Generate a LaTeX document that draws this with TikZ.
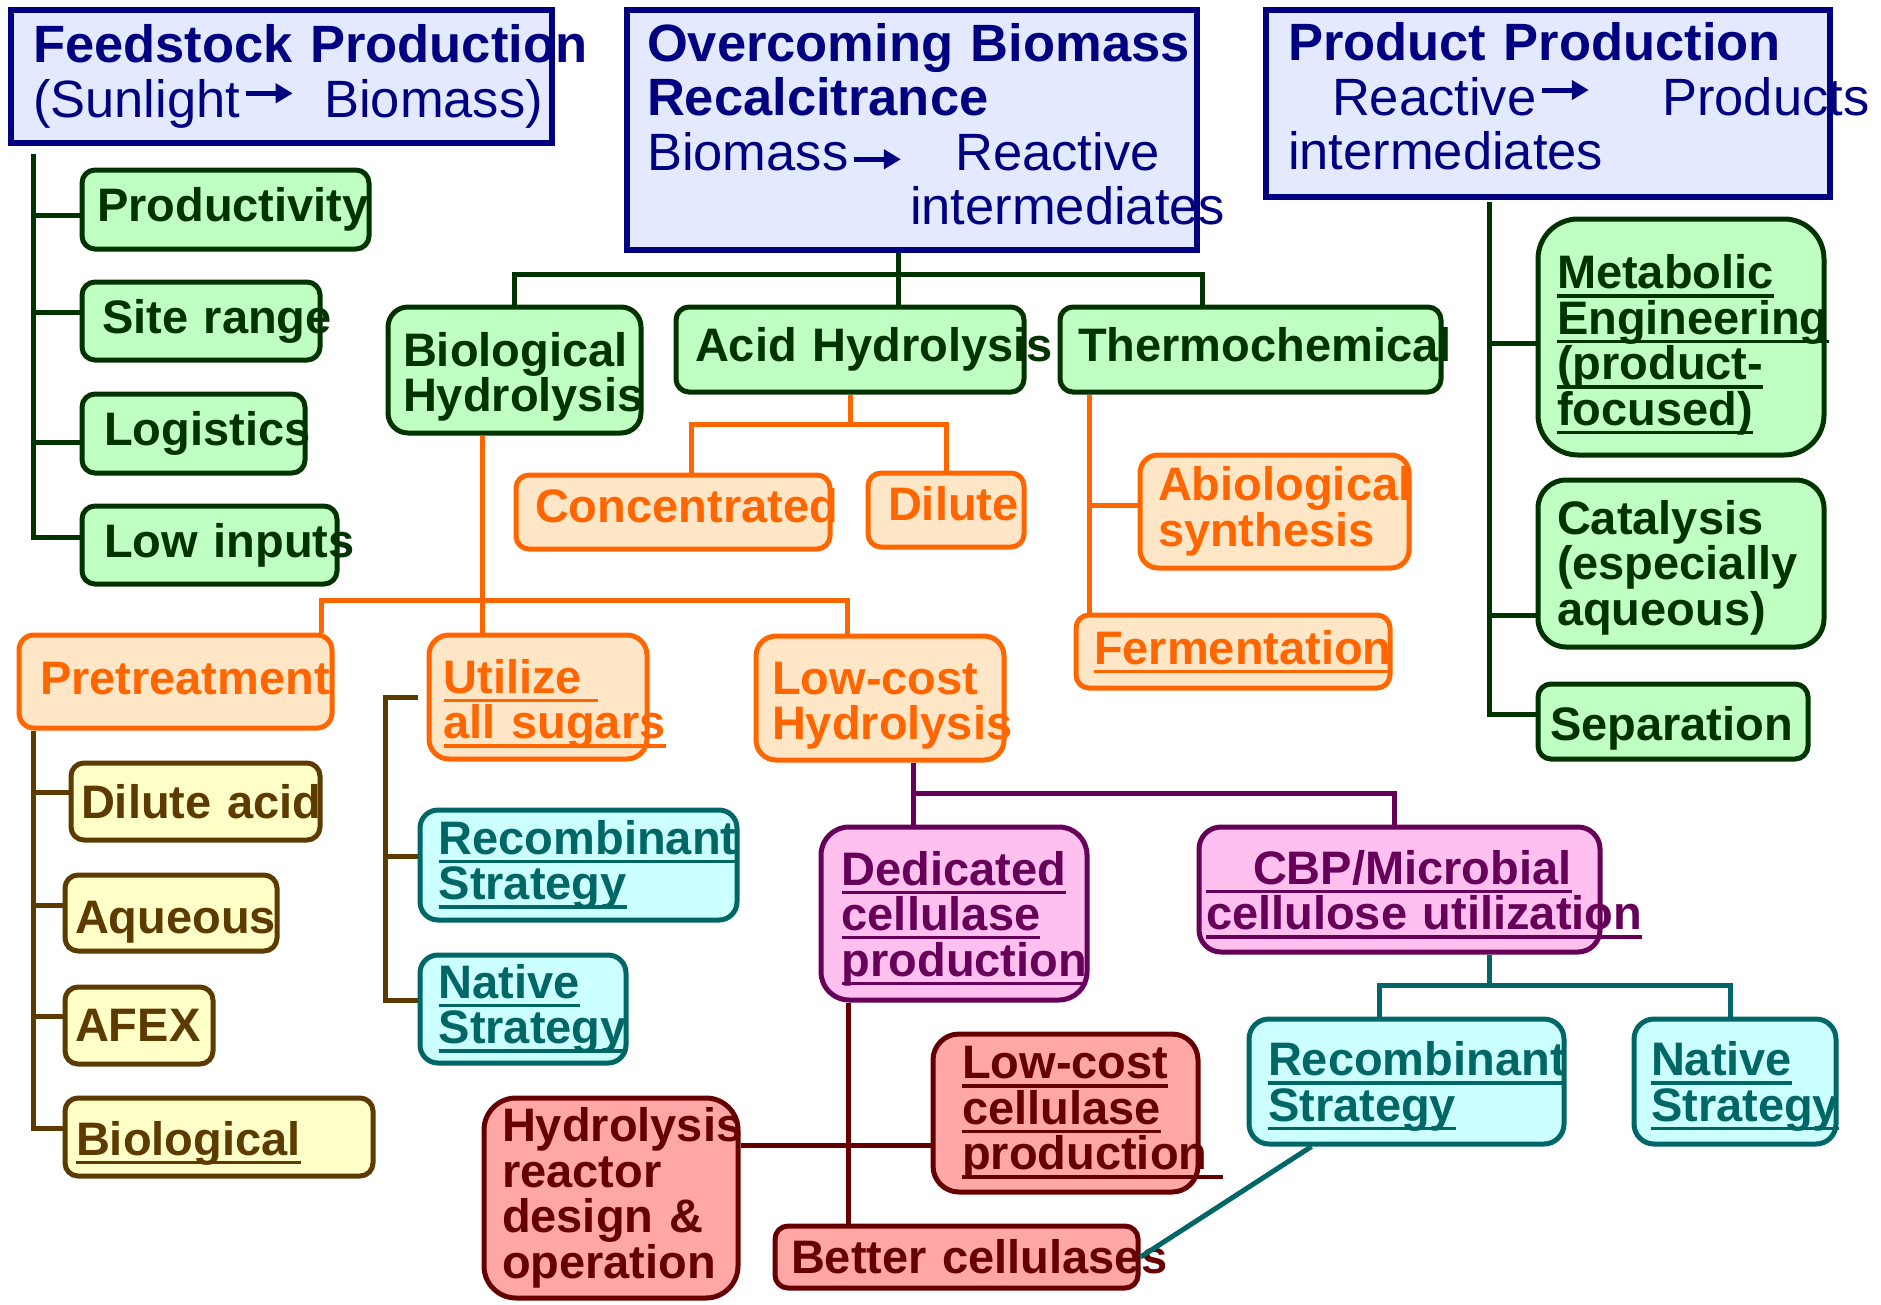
\documentclass[tikz,border=0pt]{standalone}
\usepackage{fontspec}
\setmainfont{Liberation Sans}
\usetikzlibrary{arrows.meta}

\definecolor{navyc}{HTML}{000080}
\definecolor{headfill}{HTML}{E3EAFF}
\definecolor{grnline}{HTML}{003300}
\definecolor{grnfill}{HTML}{BFFFC2}
\definecolor{orgline}{HTML}{FF6600}
\definecolor{orgfill}{HTML}{FFE6C6}
\definecolor{brnline}{HTML}{5C3A00}
\definecolor{brnfill}{HTML}{FFFFC8}
\definecolor{tealline}{HTML}{006666}
\definecolor{tealfill}{HTML}{CCFFFF}
\definecolor{purline}{HTML}{660058}
\definecolor{purfill}{HTML}{FFC0F0}
\definecolor{redline}{HTML}{660000}
\definecolor{redfill}{HTML}{FFA6A6}

\hyphenpenalty=10000
\exhyphenpenalty=10000

\newcommand\boxfont{\fontsize{47}{45.5}\selectfont\bfseries}
\newcommand\headfont{\fontsize{52.5}{54.5}\selectfont}
\newcommand\uln[1]{\leavevmode\setbox0\hbox{#1}\rlap{\rule[-8.8pt]{\wd0}{3.3pt}}\box0}
\newcommand\harr[2]{\hspace{3pt}\tikz[baseline=0pt]\draw[navyc,line width=5pt,-{Triangle[length=17pt,width=19pt]}] (0pt,#1pt) -- (47pt,#1pt);\hspace{#2pt}}

\tikzset{
	sz/.code n args={3}{\pgfmathsetmacro\boxtw{#1-2*#3}\pgfkeysalso{minimum width=#1pt, minimum height=#2pt, inner xsep=#3pt, text width=\boxtw pt}},
	box/.style={rounded corners=13pt, line width=5pt, align=left, inner ysep=0pt, font=\boxfont},
	headbox/.style={draw=navyc, fill=headfill, text=navyc, line width=5.5pt, align=left, inner ysep=0pt, font=\headfont},
	grnbox/.style={box, draw=grnline, fill=grnfill, text=grnline},
	orgbox/.style={box, draw=orgline, fill=orgfill, text=orgline},
	brnbox/.style={box, draw=brnline, fill=brnfill, text=brnline},
	tealbox/.style={box, draw=tealline, fill=tealfill, text=tealline},
	purbox/.style={box, draw=purline, fill=purfill, text=purline},
	redbox/.style={box, draw=redline, fill=redfill, text=redline},
	link/.style={line width=5pt}
}

\begin{document}
\begin{tikzpicture}[x=1pt, y=-1pt]
	\useasboundingbox (0,0) rectangle (1881,1304);

	\node[headbox, sz={541}{133}{22}] (feed) at (281.5,76.5) {\mbox{\textbf{Feedstock Production}}\\\mbox{(Sunlight\harr{24}{29}Biomass)}};
	\node[headbox, sz={570}{240}{20}] (over) at (912,130) {\mbox{\textbf{Overcoming Biomass}}\\\textbf{Recalcitrance}\\\mbox{Biomass\harr{11}{52}Reactive}\\\mbox{\hspace*{263pt}intermediates}\rule[-12pt]{0pt}{0pt}};
	\node[headbox, sz={564}{187}{22}] (prodn) at (1548,103.5) {\mbox{\textbf{Product Production}}\\\mbox{\hspace*{44pt}Reactive\harr{25}{71}Products}\\intermediates\rule[-15pt]{0pt}{0pt}};

	\node[grnbox, sz={287}{79}{15}] (prod) at (225.5,209.5) {Productivity};
	\node[grnbox, sz={238}{78}{20}] (site) at (201,321) {Site~range};
	\node[grnbox, sz={223}{79}{22}] (logi) at (193.5,433.5) {Logistics};
	\node[grnbox, sz={255}{78}{22}] (lowin) at (209.5,545) {Low~inputs};
	\node[grnbox, sz={253}{126}{15}, rounded corners=20pt] (bio) at (514.5,370) {Biological\rule{0pt}{48pt}\\Hydrolysis};
	\node[grnbox, sz={348}{85}{19}] (acid) at (850,349.5) {Acid~Hydrolysis};
	\node[grnbox, sz={381}{85}{18}] (thermo) at (1250.5,349.5) {Thermochemical\rule[-10pt]{0pt}{0pt}};
	\node[grnbox, sz={286}{236}{19}, rounded corners=40pt] (meta) at (1681,337) {\uln{Metabolic}\rule{0pt}{50pt}\\\uln{Engineering}\\\uln{(product-}\\\uln{focused)}};
	\node[grnbox, sz={286}{167}{19}, rounded corners=28pt] (cata) at (1681,563.5) {Catalysis\rule{0pt}{42pt}\\(especially\\aqueous)};
	\node[grnbox, sz={270}{75}{12}] (sep) at (1673,721.5) {Separation\rule{0pt}{48pt}};

	\node[orgbox, sz={314}{74}{19}] (conc) at (673,512) {Concentrated\rule[-14pt]{0pt}{0pt}};
	\node[orgbox, sz={156}{74}{20}] (dil) at (946,510) {Dilute\rule[-14pt]{0pt}{0pt}};
	\node[orgbox, sz={269}{113}{18}, rounded corners=18pt] (abio) at (1274.5,511.5) {Abiological\\synthesis};
	\node[orgbox, sz={314}{73}{18}] (ferm) at (1233,651.5) {\uln{Fermentation}};
	\node[orgbox, sz={313}{93}{21}, rounded corners=15pt] (pret) at (175.5,681.5) {Pretreatment\rule[-6pt]{0pt}{0pt}};
	\node[orgbox, sz={218}{124}{14.5}, rounded corners=20pt] (util) at (538,697) {\uln{Utilize~}\rule{0pt}{48pt}\\\uln{all~sugars}};
	\node[orgbox, sz={248}{124}{16}, rounded corners=20pt] (lch) at (880,698) {Low-cost\rule{0pt}{48pt}\\Hydrolysis};

	\node[brnbox, sz={249}{77}{10}] (dacid) at (195.5,801.5) {Dilute~acid};
	\node[brnbox, sz={212}{76}{10}] (aq) at (171,913) {Aqueous\rule{0pt}{50pt}};
	\node[brnbox, sz={148}{77}{10}] (afex) at (139,1025.5) {AFEX};
	\node[brnbox, sz={308}{78}{11}] (biol) at (219,1137) {\uln{Biological}\rule{0pt}{46pt}};

	\node[tealbox, sz={317}{110}{18.7}, rounded corners=18pt] (rec1) at (578.5,865) {\uln{Recombinant}\\\uln{Strategy}};
	\node[tealbox, sz={206}{108}{18.7}, rounded corners=18pt] (nat1) at (523,1009) {\uln{Native}\\\uln{Strategy}};
	\node[tealbox, sz={315}{125}{19}, rounded corners=20pt] (rec2) at (1406.5,1081.5) {\uln{Recombinant}\rule{0pt}{44pt}\\\uln{Strategy}};
	\node[tealbox, sz={202}{125}{17}, rounded corners=20pt] (nat2) at (1735,1081.5) {\uln{Native}\rule{0pt}{44pt}\\\uln{Strategy}};

	\node[purbox, sz={266}{173}{20.7}, rounded corners=28pt] (ded) at (954,913.5) {\uln{Dedicated}\rule{0pt}{44pt}\\\uln{cellulase}\\\uln{production}};
	\node[purbox, sz={401}{125}{7}, rounded corners=22pt] (cbp) at (1399.5,889.5) {\uln{~~~CBP/Microbial}\rule{0pt}{44pt}\\\uln{cellulose~utilization}};

	\node[redbox, sz={254}{200}{18}, rounded corners=32pt] (hyd) at (611,1198) {Hydrolysis\\reactor\\design~\&\\operation};
	\node[redbox, sz={265}{158}{29}, rounded corners=26pt] (lcc) at (1065.5,1113) {\uln{Low-cost}\\\uln{cellulase}\\\uln{production~}};
	\node[redbox, sz={363}{62}{16}] (better) at (956.5,1257) {Better~cellulases};

	\coordinate (ftop) at ([shift={(25.5pt,-8pt)}]feed.south west);
	\foreach \n/\s in {prod/-6,site/9,logi/-9,lowin/8}
		\draw[link,grnline] (ftop) |- ([yshift=\s pt]\n.west);
	\coordinate (ptop) at ([shift={(-59pt,-2pt)}]prodn.south);
	\foreach \n/\s in {meta/-6,cata/-52,sep/7}
		\draw[link,grnline] (ptop) |- ([yshift=\s pt]\n.west);
	\draw[link,grnline] ([xshift=-14pt]over.south) -- ([xshift=-14pt]over.south |- acid.north);
	\draw[link,grnline] (bio.north) -- ++(0,-30) -| ([xshift=-48pt]thermo.north);

	\draw[link,orgline] ([xshift=-32pt]bio.south) -- ([xshift=-32pt]bio.south |- util.north);
	\draw[link,orgline] ([xshift=146pt]pret.north) -- ++(0,-32) -| ([xshift=-33pt]lch.north);
	\draw[link,orgline] (acid.south) -- ++(0,30) coordinate (abus);
	\draw[link,orgline] ([xshift=18pt]conc.north) |- (abus) -| (dil.north);
	\draw[link,orgline] ([xshift=32pt]thermo.south west) -- ([xshift=32pt]thermo.south west |- ferm.north);
	\draw[link,orgline] ([xshift=32pt]thermo.south west) |- ([yshift=6pt]abio.west);

	\coordinate (ptr) at ([xshift=17pt]pret.south west);
	\foreach \n/\s in {dacid/9,aq/8,afex/9,biol/9}
		\draw[link,brnline] (ptr) |- ([yshift=\s pt]\n.west);
	\coordinate (ustub) at ([xshift=-9pt]util.west);
	\foreach \n in {rec1,nat1}
		\draw[link,brnline] (ustub) -- ++(-32,0) |- ([yshift=9pt]\n.west);

	\draw[link,purline] ([xshift=33pt]lch.south) -- ([xshift=33pt]lch.south |- ded.north);
	\draw[link,purline] ([xshift=33pt]lch.south) ++(0,31) -| ([xshift=-5pt]cbp.north);

	\draw[link,tealline] ([xshift=90pt]cbp.south) -- ++(0,31) coordinate (tbus);
	\draw[link,tealline] ([xshift=-27pt]rec2.north) |- (tbus) -| ([xshift=-5pt]nat2.north);
	\draw[link,tealline] ([xshift=-95pt]rec2.south) -- (better.east);

	\draw[link,redline] ([xshift=30pt]ded.south west) -- ([xshift=30pt]ded.south west |- better.north);
	\draw[link,redline] ([yshift=53pt]hyd.east) -- ([yshift=53pt]hyd.east -| lcc.west);
\end{tikzpicture}
\end{document}
